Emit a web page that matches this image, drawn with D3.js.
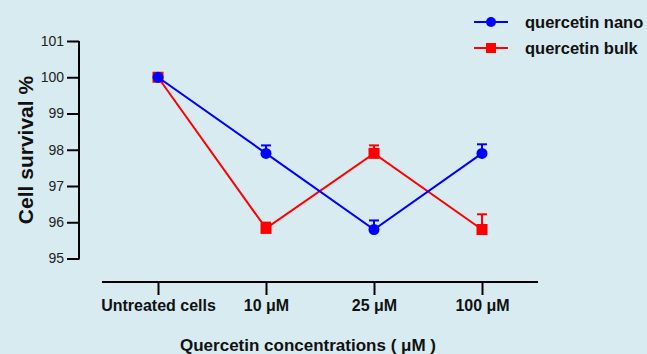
<!DOCTYPE html>
<html>
<head>
<meta charset="utf-8">
<script src="https://cdn.jsdelivr.net/npm/d3@7"></script>
<style>
  html, body { margin: 0; padding: 0; background: #d7ebf1; }
  svg { display: block; font-family: Arial, "Liberation Sans", sans-serif; }
</style>
</head>
<body>
<div id="chart"></div>
<script>
// concentrations on the x axis
const categories = ['Untreated cells', '10 μM', '25 μM', '100 μM'];
const yTicks = [95, 96, 97, 98, 99, 100, 101];

// mean cell survival %
const nanoValues = [100, 97.9, 95.8, 97.9];
const bulkValues = [100, 95.83, 97.9, 95.8];

// upper error (SD)
const nanoErrors = [0, 0.22, 0.25, 0.25];
const bulkErrors = [0, 0.16, 0.22, 0.42];

const seriesNames = ['quercetin nano', 'quercetin bulk'];

const width = 647, height = 354;

const svg = d3.select('#chart').append('svg')
  .attr('width', width)
  .attr('height', height);

svg.append('rect')
  .attr('width', width)
  .attr('height', height)
  .attr('fill', '#d7ebf1');

const x = d3.scalePoint()
  .domain(categories)
  .range([158, 482]);

const y = d3.scaleLinear()
  .domain([95, 101])
  .range([258.5, 41]);

// Y axis
const yAxis = svg.append('g')
  .attr('transform', 'translate(79,0)')
  .call(d3.axisLeft(y).tickValues(yTicks).tickSize(12).tickPadding(3).tickFormat(d3.format('d')));
yAxis.select('.domain').attr('stroke', '#000').attr('stroke-width', 2)
  .attr('d', `M0,${y(101)}V${y(95) + 1}`);
yAxis.selectAll('.tick line').attr('stroke', '#000').attr('stroke-width', 2);
yAxis.selectAll('.tick text').attr('fill', '#222').style('font-size', '14px');

// X axis
const xAxis = svg.append('g')
  .attr('transform', 'translate(0,282)')
  .call(d3.axisBottom(x).tickSize(13).tickPadding(5));
xAxis.select('.domain').attr('stroke', '#000').attr('stroke-width', 2)
  .attr('d', 'M102,0H538');
xAxis.selectAll('.tick line').attr('stroke', '#000').attr('stroke-width', 2);
xAxis.selectAll('.tick text').attr('fill', '#111')
  .style('font-size', '16px').style('font-weight', 'bold');

// Axis titles
svg.append('text')
  .attr('x', 308)
  .attr('y', 351)
  .attr('text-anchor', 'middle')
  .style('font-size', '17px')
  .style('font-weight', 'bold')
  .attr('fill', '#111')
  .text('Quercetin concentrations ( μM )');

svg.append('text')
  .attr('transform', 'translate(33,150) rotate(-90)')
  .attr('text-anchor', 'middle')
  .style('font-size', '21px')
  .style('font-weight', 'bold')
  .attr('fill', '#111')
  .text('Cell survival %');

const series = [
  { name: seriesNames[1], values: bulkValues, errors: bulkErrors, color: '#ff0000', shape: 'square' },
  { name: seriesNames[0], values: nanoValues, errors: nanoErrors, color: '#0000ff', shape: 'circle' }
];

const line = d3.line()
  .x((d, i) => x(categories[i]))
  .y(d => y(d));

series.forEach(s => {
  const g = svg.append('g');

  // error bars (upper only)
  s.values.forEach((v, i) => {
    if (!s.errors[i]) return;
    const cx = x(categories[i]);
    g.append('line')
      .attr('x1', cx).attr('x2', cx)
      .attr('y1', y(v)).attr('y2', y(v + s.errors[i]))
      .attr('stroke', s.color).attr('stroke-width', 2);
    g.append('line')
      .attr('x1', cx - 5).attr('x2', cx + 5)
      .attr('y1', y(v + s.errors[i])).attr('y2', y(v + s.errors[i]))
      .attr('stroke', s.color).attr('stroke-width', 2);
  });

  g.append('path')
    .datum(s.values)
    .attr('fill', 'none')
    .attr('stroke', s.color)
    .attr('stroke-width', 2)
    .attr('d', line);

  s.values.forEach((v, i) => {
    const cx = x(categories[i]), cy = y(v);
    if (s.shape === 'circle') {
      g.append('circle').attr('cx', cx).attr('cy', cy).attr('r', 5.5).attr('fill', s.color);
    } else {
      g.append('rect').attr('x', cx - 5.5).attr('y', cy - 5.5)
        .attr('width', 11).attr('height', 11).attr('fill', s.color);
    }
  });
});

// Legend
const legend = svg.append('g');
[series[1], series[0]].forEach((s, i) => {
  const ly = 22 + i * 26;
  legend.append('line')
    .attr('x1', 474).attr('x2', 508)
    .attr('y1', ly).attr('y2', ly)
    .attr('stroke', s.color).attr('stroke-width', 2);
  if (s.shape === 'circle') {
    legend.append('circle').attr('cx', 491).attr('cy', ly).attr('r', 5).attr('fill', s.color);
  } else {
    legend.append('rect').attr('x', 486).attr('y', ly - 5)
      .attr('width', 10).attr('height', 10).attr('fill', s.color);
  }
  legend.append('text')
    .attr('x', 525)
    .attr('y', ly)
    .attr('dy', '0.35em')
    .style('font-size', '16.5px')
    .style('font-weight', 'bold')
    .attr('fill', '#111')
    .text(s.name);
});
</script>
</body>
</html>
